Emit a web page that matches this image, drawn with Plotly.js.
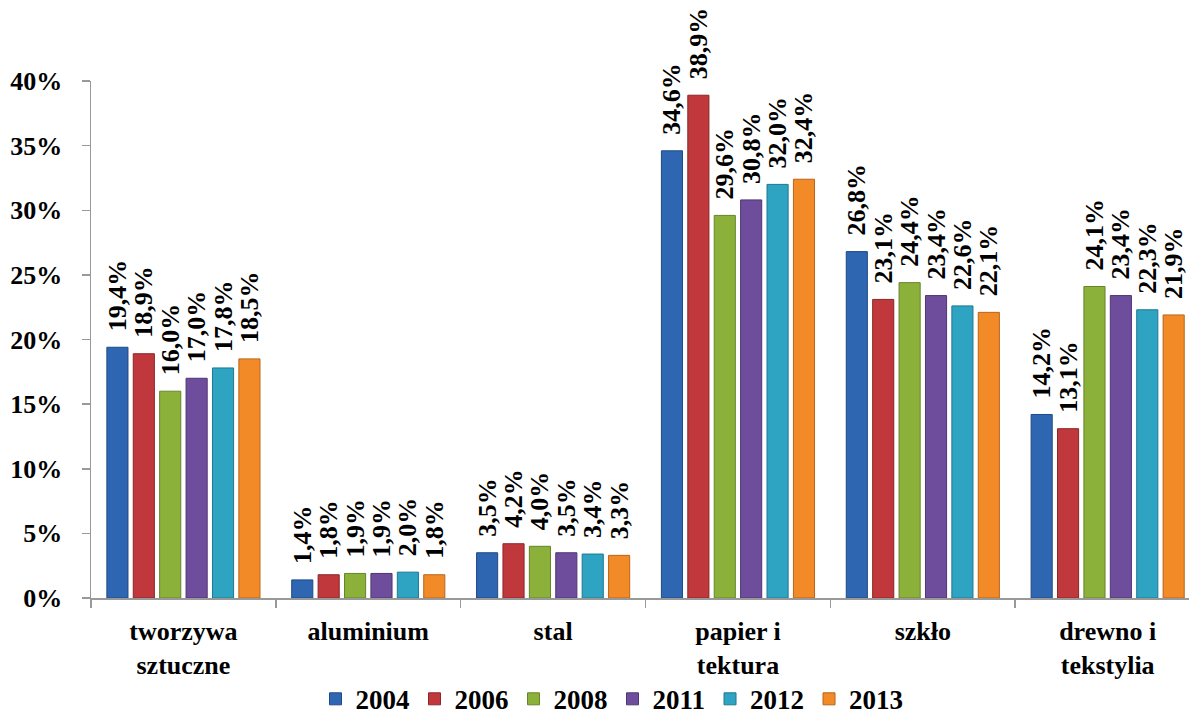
<!DOCTYPE html>
<html>
<head>
<meta charset="utf-8">
<script src="https://cdn.plot.ly/plotly-3.0.1.min.js"></script>
<style>html,body{margin:0;padding:0;background:#fff;}#chart{width:1189px;height:715px;}</style>
</head>
<body>
<div id="chart"></div>
<script>
const categories = ["tworzywa<br>sztuczne", "aluminium", "stal", "papier i<br>tektura", "szkło", "drewno i<br>tekstylia"];
const years = ["2004", "2006", "2008", "2011", "2012", "2013"];
const v2004 = [0.194, 0.014, 0.035, 0.346, 0.268, 0.142];
const v2006 = [0.189, 0.018, 0.042, 0.389, 0.231, 0.131];
const v2008 = [0.160, 0.019, 0.040, 0.296, 0.244, 0.241];
const v2011 = [0.170, 0.019, 0.035, 0.308, 0.234, 0.234];
const v2012 = [0.178, 0.020, 0.034, 0.320, 0.226, 0.223];
const v2013 = [0.185, 0.018, 0.033, 0.324, 0.221, 0.219];
const seriesValues = [v2004, v2006, v2008, v2011, v2012, v2013];
const colors = ["#2F66B2", "#C0383B", "#8BB13A", "#6E4E9C", "#2EA3C2", "#F28A28"];
const lineColors = ["#1F4A85", "#8C2628", "#66842A", "#4E3672", "#1F7890", "#B8651B"];

const FAM = "Liberation Serif";
const font = {family: FAM, size: 26, color: "#000", weight: 700};

const traces = years.map((y, i) => ({
  type: "bar",
  name: y,
  x: categories,
  y: seriesValues[i],
  marker: {color: colors[i], line: {color: lineColors[i], width: 1}},
  texttemplate: "\u00a0\u00a0%{y:.1%}",
  textposition: "outside",
  textangle: -90,
  constraintext: "none",
  cliponaxis: false,
  textfont: font,
  outsidetextfont: font,
  hoverinfo: "none"
}));

const layout = {
  width: 1189, height: 715,
  margin: {l: 91, r: 0, t: 81, b: 117},
  paper_bgcolor: "#fff", plot_bgcolor: "#fff",
  font: {family: FAM},
  separators: ", ",
  barmode: "group",
  bargap: 0.143,
  bargroupgap: 0.2,
  showlegend: true,
  legend: {
    orientation: "h", x: 0.4745, xanchor: "center", yref: "container", y: 0.022, yanchor: "middle",
    font: {family: FAM, size: 27, color: "#000", weight: 700},
    itemwidth: 30, tracegroupgap: 0
  },
  xaxis: {
    type: "category",
    range: [-0.5, 5.44],
    showline: true, linecolor: "#999", linewidth: 1.5,
    ticks: "outside", tickson: "boundaries", ticklen: 8, tickcolor: "#999", tickwidth: 1.5,
    ticklabelstandoff: 9,
    showgrid: false, zeroline: false,
    tickfont: {family: FAM, size: 26, color: "#000", weight: 700},
    fixedrange: true, automargin: false
  },
  yaxis: {
    range: [0, 0.4],
    tickvals: [0, 0.05, 0.10, 0.15, 0.20, 0.25, 0.30, 0.35, 0.40],
    tickformat: ".0%",
    showline: true, linecolor: "#999", linewidth: 1.5,
    ticks: "outside", ticklen: 8, tickcolor: "#999", tickwidth: 1.5,
    ticklabelstandoff: 14,
    showgrid: false, zeroline: false,
    tickfont: {family: FAM, size: 26, color: "#000", weight: 700},
    fixedrange: true, automargin: false
  }
};

Plotly.newPlot("chart", traces, layout, {displayModeBar: false, staticPlot: true});
</script>
</body>
</html>
